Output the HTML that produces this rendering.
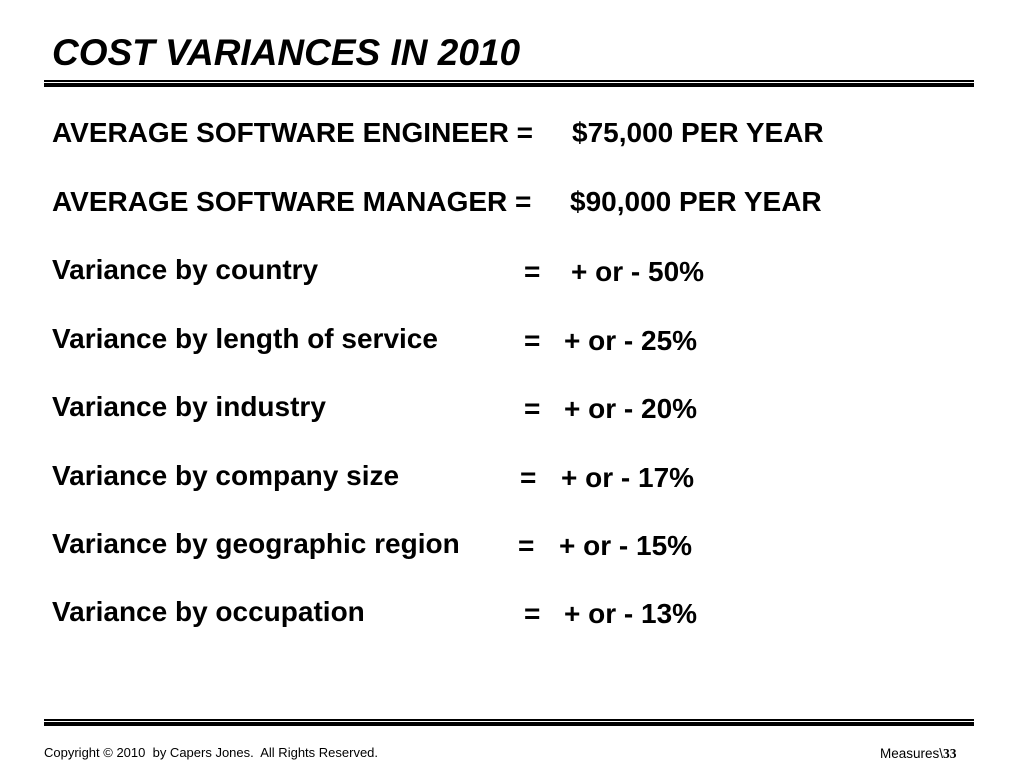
<!DOCTYPE html>
<html><head><meta charset="utf-8"><style>
body{margin:0;width:1024px;height:768px;background:#fff;position:relative;overflow:hidden;font-family:"Liberation Sans",sans-serif;color:#000}
.t{position:absolute;white-space:nowrap;font-weight:bold;font-size:28px;line-height:28px}
.ln{position:absolute;background:#000;left:44px;width:930px}
</style></head><body>
<div class="t" style="left:52px;top:34px;font-size:37px;line-height:37px;font-style:italic">COST VARIANCES IN 2010</div>
<div class="ln" style="top:80px;height:2px"></div>
<div class="ln" style="top:83px;height:4px"></div>

<div class="t" style="left:52px;top:119px">AVERAGE SOFTWARE ENGINEER =</div>
<div class="t" style="left:572px;top:119px">$75,000 PER YEAR</div>
<div class="t" style="left:52px;top:188px">AVERAGE SOFTWARE MANAGER =</div>
<div class="t" style="left:570px;top:188px">$90,000 PER YEAR</div>

<div class="t" style="left:52px;top:256px">Variance by country</div>
<div class="t" style="left:524px;top:258px">=</div>
<div class="t" style="left:571px;top:258px">+ or - 50%</div>
<div class="t" style="left:52px;top:325px">Variance by length of service</div>
<div class="t" style="left:524px;top:327px">=</div>
<div class="t" style="left:564px;top:327px">+ or - 25%</div>
<div class="t" style="left:52px;top:393px">Variance by industry</div>
<div class="t" style="left:524px;top:395px">=</div>
<div class="t" style="left:564px;top:395px">+ or - 20%</div>
<div class="t" style="left:52px;top:462px">Variance by company size</div>
<div class="t" style="left:520px;top:464px">=</div>
<div class="t" style="left:561px;top:464px">+ or - 17%</div>
<div class="t" style="left:52px;top:530px">Variance by geographic region</div>
<div class="t" style="left:518px;top:532px">=</div>
<div class="t" style="left:559px;top:532px">+ or - 15%</div>
<div class="t" style="left:52px;top:598px">Variance by occupation</div>
<div class="t" style="left:524px;top:600px">=</div>
<div class="t" style="left:564px;top:600px">+ or - 13%</div>

<div class="ln" style="top:719px;height:2px"></div>
<div class="ln" style="top:722px;height:4px"></div>
<div class="t" style="left:44px;top:746px;font-size:13px;line-height:13px;font-weight:normal">Copyright © 2010&nbsp; by Capers Jones.&nbsp; All Rights Reserved.</div>
<div class="t" style="left:880px;top:747px;font-size:13.5px;line-height:13px;font-weight:normal">Measures\<b style="font-family:'Liberation Serif',serif">33</b></div>
</body></html>
